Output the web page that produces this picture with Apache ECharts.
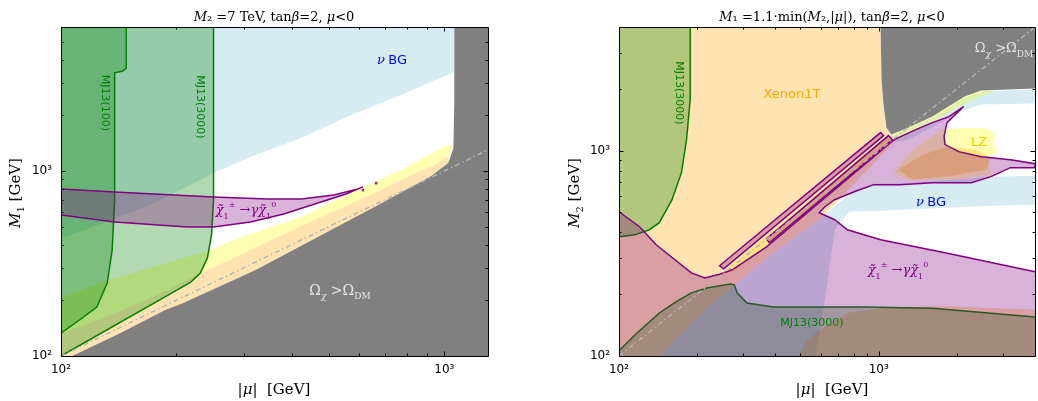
<!DOCTYPE html>
<html><head><meta charset="utf-8">
<script src="https://cdn.jsdelivr.net/npm/echarts@6/dist/echarts.min.js"></script>
<style>html,body{margin:0;padding:0;background:#fff}#c{width:1038px;height:401px}</style>
</head><body><div id="c"></div>
<script>
// ---------- axis ranges and ticks ----------
const L_X_RANGE = [100, 1300], L_Y_RANGE = [100, 6000];
const R_X_RANGE = [100, 4000], R_Y_RANGE = [100, 4000];
const L_X_MAJOR = [100, 1000], L_X_MINOR = [200, 300, 400, 500, 600, 700, 800, 900];
const L_Y_MAJOR = [100, 1000], L_Y_MINOR = [200, 300, 400, 500, 600, 700, 800, 900, 2000, 3000, 4000, 5000];
const R_X_MAJOR = [100, 1000], R_X_MINOR = [200, 300, 400, 500, 600, 700, 800, 900, 2000, 3000];
const R_Y_MAJOR = [100, 1000], R_Y_MINOR = [200, 300, 400, 500, 600, 700, 800, 900, 2000, 3000];

// ---------- left panel regions [|mu|, M1] in GeV ----------
const L_NUBG = [[100,6000],[1062,6000],[1062,3430],[771,2575],[571,2009],[423,1508],[312,1191],[250,975],[171,655],[100,430]];
const L_LZ = [[1056,1417],[941,1267],[771,1012],[606,809],[423,564],[282,424],[245,374],[133,257],[100,208],[100,133],[126,157],[171,206],[248,299],[312,374],[423,504],[632,733],[771,894],[941,1078],[1024,1205]];
const L_XENON = [[1024,1205],[941,1078],[771,894],[632,733],[423,504],[312,374],[248,299],[171,206],[126,157],[100,133],[100,100],[300,100],[1062,697]];
const L_RELIC = [[107,100],[143,133],[187,177],[207,192],[322,292],[672,655],[925,940],[1024,1105],[1056,1332],[1062,2420],[1062,6000],[1300,6000],[1300,100]];
const L_MJ3000 = [[100,6000],[250,6000],[250,697],[247,451],[241,339],[231,281],[218,251],[199,225],[100,100]];
const L_MJ100 = [[100,6000],[148,6000],[148,3600],[145,3470],[138,3390],[138,697],[136,374],[132,248],[124,184],[112,157],[100,133]];
const L_DECAY = [[100,800],[138,770],[250,723],[346,706],[423,706],[515,742],[595,800],[613,820],[554,751],[468,671],[381,586],[312,530],[250,498],[214,498],[138,530],[100,578]];
const L_DECAY_DOTS = [[613,790],[664,861]];
const L_DIAG = [[100,100],[1300,1300]];

// ---------- right panel regions [|mu|, M2] in GeV ----------
const R_NUBG1 = [[1119,1184],[1297,1280],[1610,1449],[2142,1814],[2482,1940],[4000,1984],[4000,1696],[2482,1677],[1999,1532],[1681,1339],[1297,1131],[1169,1106]];
const R_NUBG2 = [[143,100],[220,173],[393,318],[605,471],[805,645],[958,690],[1354,698],[1914,722],[2706,747],[4000,755],[4000,545],[2706,539],[1801,527],[1017,510],[771,504],[677,412],[621,188],[570,100]];
const R_LZ1 = [[1756,1266],[2276,1294],[2638,1280],[2826,1197],[2777,1070],[2876,989],[2638,925],[2706,764],[1914,722],[1297,722],[1139,790],[1354,1011]];
const R_LZ2 = [[1119,1210],[1610,1465],[2142,1834],[2482,1962],[2826,1962],[2179,1714],[1681,1416],[1189,1131]];
const R_LZ3 = [[257,260],[1072,1170],[1139,1144],[275,254]];
const R_XENON1 = [[100,4000],[1017,4000],[1026,2220],[1044,1677],[1072,1294],[1119,1210],[1169,1131],[605,471],[393,318],[220,173],[143,100],[100,100]];
const R_XENON2 = [[1189,808],[1476,956],[1833,1046],[2377,1011],[2706,925],[2592,808],[1914,755],[1354,722]];
const R_XENON3 = [[492,100],[522,116],[570,129],[660,145],[758,162],[1017,171],[1801,175],[4000,168],[4000,100]];
const R_RELIC = [[1017,4000],[1026,2220],[1044,1677],[1072,1294],[1119,1197],[1297,1294],[1610,1465],[2142,1834],[2482,1962],[4000,2006],[4000,4000]];
const R_MJ_UP = [[100,4000],[188,4000],[188,1774],[182,1131],[174,781],[160,577],[143,446],[131,412],[115,389],[100,381]];
const R_MJ_LOW = [[100,106],[117,129],[143,162],[165,183],[190,203],[220,215],[268,224],[278,222],[285,203],[311,181],[393,173],[878,173],[1610,171],[4000,155],[4000,100],[100,100]];
const R_DECAY = [[100,504],[120,426],[139,348],[190,254],[214,240],[246,251],[273,263],[370,340],[1110,1094],[1169,1144],[1390,1266],[1610,1369],[1865,1465],[2124,1639],[1833,1369],[1786,1170],[1801,1070],[2034,989],[2482,935],[3217,904],[4000,864],[4000,826],[3217,826],[2706,747],[2276,698],[1610,698],[1210,683],[958,683],[805,631],[677,577],[621,533],[590,499],[677,461],[758,412],[1017,368],[1801,318],[4000,257],[4000,100],[100,100]];
const R_STRIP_A = [[244,275],[1017,1224],[1044,1184],[253,266]];
const R_STRIP_B = [[370,372],[1091,1184],[1129,1131],[379,356]];
const R_DIAG = [[100,100],[4000,4000]];

// ---------- styles ----------
const C = {
  blue: 'rgba(173,216,230,0.5)', yellow: 'rgba(255,255,0,0.3)', orange: 'rgba(255,165,0,0.3)',
  gray: '#808080', green: 'rgba(0,128,0,0.3)', purple: 'rgba(128,0,128,0.3)',
  greenLine: '#008000', purpleLine: '#800080'
};

function region(gi, pts, fill, z, outline, stroke, closed) {
  return {
    type: 'custom', xAxisIndex: gi, yAxisIndex: gi, silent: true, animation: false, z: z,
    data: pts,
    renderItem: function (params, api) {
      if (params.dataIndex !== 0) return null;
      const children = [{ type: 'polygon', shape: { points: pts.map(p => api.coord(p)) }, style: { fill: fill } }];
      if (outline) {
        children.push({ type: closed ? 'polygon' : 'polyline', shape: { points: outline.map(p => api.coord(p)) },
          style: { fill: 'none', stroke: stroke, lineWidth: 1.5 } });
      }
      return { type: 'group', children: children };
    }
  };
}

function ticks(gi, xr, yr, xMaj, xMin, yMaj, yMin) {
  const items = [];
  xMaj.forEach(v => items.push([v, yr[0], 0]));
  xMin.forEach(v => items.push([v, yr[0], 1]));
  yMaj.forEach(v => items.push([xr[0], v, 2]));
  yMin.forEach(v => items.push([xr[0], v, 3]));
  return {
    type: 'custom', xAxisIndex: gi, yAxisIndex: gi, silent: true, animation: false, z: 30,
    data: items,
    renderItem: function (params, api) {
      const cs = params.coordSys;
      const kind = api.value(2);
      const p = api.coord([api.value(0), api.value(1)]);
      const st = { stroke: '#000', lineWidth: 1 };
      const ch = [];
      if (kind <= 1) {
        const len = kind === 0 ? 4.5 : 2.5, x = Math.round(p[0]) + 0.5;
        ch.push({ type: 'line', shape: { x1: x, y1: cs.y + cs.height, x2: x, y2: cs.y + cs.height - len }, style: st });
        ch.push({ type: 'line', shape: { x1: x, y1: cs.y, x2: x, y2: cs.y + len }, style: st });
      } else {
        const len = kind === 2 ? 4.5 : 2.5, y = Math.round(p[1]) + 0.5;
        ch.push({ type: 'line', shape: { x1: cs.x, y1: y, x2: cs.x + len, y2: y }, style: st });
        ch.push({ type: 'line', shape: { x1: cs.x + cs.width, y1: y, x2: cs.x + cs.width - len, y2: y }, style: st });
      }
      if (params.dataIndex === 0) {
        ch.push({ type: 'rect', shape: { x: cs.x + 0.5, y: cs.y + 0.5, width: cs.width, height: cs.height },
          style: { fill: 'none', stroke: '#000', lineWidth: 1 } });
      }
      return { type: 'group', children: ch };
    }
  };
}

function diag(gi, pts) {
  return { type: 'line', xAxisIndex: gi, yAxisIndex: gi, data: pts, symbol: 'none', silent: true, animation: false, z: 12,
    lineStyle: { color: '#b4b4b4', width: 1.5, type: [5, 3, 1.5, 3] } };
}

const SUP = { 2: '\u00b2', 3: '\u00b3' };
function logLabel(v) {
  const l = Math.log10(v), r = Math.round(l);
  return Math.abs(l - r) < 1e-6 && SUP[r] ? '10' + SUP[r] : '';
}
function xAx(gi, r) {
  return { type: 'log', logBase: 10, gridIndex: gi, min: r[0], max: r[1],
    axisLine: { show: false }, axisTick: { show: false }, splitLine: { show: false }, minorTick: { show: false },
    axisLabel: { formatter: logLabel, margin: 8, color: '#000', fontFamily: 'DejaVu Sans', fontSize: 12, showMinLabel: true, showMaxLabel: true } };
}
function yAx(gi, r) {
  return { type: 'log', logBase: 10, gridIndex: gi, min: r[0], max: r[1],
    axisLine: { show: false }, axisTick: { show: false }, splitLine: { show: false }, minorTick: { show: false },
    axisLabel: { formatter: logLabel, margin: 9, color: '#000', fontFamily: 'DejaVu Sans', fontSize: 12, showMinLabel: true, showMaxLabel: true } };
}

// ---------- text ----------
const SERIF = 'DejaVu Serif', SANS = 'DejaVu Sans';
const RICH = {
  n: { fontFamily: SERIF, fontSize: 13, lineHeight: 18, fill: '#000' },
  i: { fontFamily: SERIF, fontSize: 13, fontStyle: 'italic', lineHeight: 18, fill: '#000' },
  ax: { fontFamily: SERIF, fontSize: 15, lineHeight: 20, fill: '#000' },
  axi: { fontFamily: SERIF, fontSize: 15, fontStyle: 'italic', lineHeight: 20, fill: '#000' },
  axs: { fontFamily: SERIF, fontSize: 10, lineHeight: 12, verticalAlign: 'bottom', fill: '#000' }
};
function txt(x, y, text, style, rot) {
  return { type: 'text', x: x, y: y, rotation: rot || 0, z: 50, silent: true,
    style: Object.assign({ text: text, align: 'center', verticalAlign: 'middle', textAlign: 'center', textVerticalAlign: 'middle' }, style) };
}
function omega(x, y, color, size) {
  const t = { fontFamily: SERIF, fontSize: size, lineHeight: 20, fill: color };
  const s = { fontFamily: SERIF, fontSize: 9, lineHeight: 11, verticalAlign: 'bottom', fill: color };
  return txt(x, y, '{a|\u03a9}{si|\u03c7}{a| >\u03a9}{s|DM}', { rich: { a: t, s: s, si: Object.assign({}, s, { fontStyle: 'italic' }) } });
}
function chi(x, y) {
  const col = '#800080';
  const a = { fontFamily: SERIF, fontSize: 13, fontStyle: 'italic', lineHeight: 20, fill: col };
  const n = { fontFamily: SERIF, fontSize: 13, lineHeight: 20, fill: col };
  const sb = { fontFamily: SERIF, fontSize: 8, lineHeight: 10, verticalAlign: 'bottom', fill: col };
  const sp = { fontFamily: SERIF, fontSize: 8, lineHeight: 10, verticalAlign: 'top', fill: col };
  return txt(x, y, '{a|\u03c7\u0303}{sb|1}{sp|\u00b1}{n| \u2192}{a|\u03b3\u03c7\u0303}{sb|1}{sp|0}', { rich: { a: a, n: n, sb: sb, sp: sp } });
}
function nubg(x, y) {
  return txt(x, y, '{g|\u03bd} {b|BG}', { rich: {
    g: { fontFamily: SERIF, fontStyle: 'italic', fontSize: 13, fill: '#0000ff' },
    b: { fontFamily: SANS, fontSize: 13, fill: '#0000ff' } } });
}
const mj = (x, y, s, rot) => txt(x, y, s, { fontFamily: SANS, fontSize: 11, fill: '#008000' }, rot);

const graphics = [
  txt(274, 18, '{i|M}{n|\u2082 =7 TeV, tan}{i|\u03b2}{n|=2, }{i|\u03bc}{n|<0}', { rich: RICH }),
  txt(832, 18, '{i|M}{n|\u2081 =1.1\u00b7min(}{i|M}{n|\u2082,|}{i|\u03bc}{n||), tan}{i|\u03b2}{n|=2, }{i|\u03bc}{n|<0}', { rich: RICH }),
  txt(274, 390, '{ax||}{axi|\u03bc}{ax||  [GeV]}', { rich: RICH }),
  txt(832, 390, '{ax||}{axi|\u03bc}{ax||  [GeV]}', { rich: RICH }),
  txt(16, 193, '{axi|M}{axs|1}{ax| [GeV]}', { rich: RICH }, Math.PI / 2),
  txt(575, 193, '{axi|M}{axs|2}{ax| [GeV]}', { rich: RICH }, Math.PI / 2),
  nubg(392, 61),
  mj(105, 103, 'MJ13(100)', -Math.PI / 2),
  mj(200, 107, 'MJ13(3000)', -Math.PI / 2),
  chi(246, 211),
  omega(340, 291, '#e6e6e6', 14),
  txt(792, 95, 'Xenon1T', { fontFamily: SANS, fontSize: 13, fill: '#ffa500' }),
  txt(979, 143, 'LZ', { fontFamily: SANS, fontSize: 13, fill: '#ffcc00' }),
  nubg(931, 203),
  mj(679, 93, 'MJ13(3000)', -Math.PI / 2),
  mj(812, 323, 'MJ13(3000)', 0),
  chi(898, 271),
  omega(1004, 49, '#e6e6e6', 13)
];

const series = [
  // left panel
  region(0, L_NUBG, C.blue, 2),
  region(0, L_LZ, C.yellow, 3),
  region(0, L_XENON, C.orange, 4),
  region(0, L_RELIC, C.gray, 5),
  region(0, L_MJ3000, C.green, 6, L_MJ3000.slice(1), C.greenLine),
  region(0, L_MJ100, C.green, 7, L_MJ100.slice(1), C.greenLine),
  region(0, L_DECAY, C.purple, 8, L_DECAY, C.purpleLine),
  diag(0, L_DIAG),
  { type: 'scatter', xAxisIndex: 0, yAxisIndex: 0, data: L_DECAY_DOTS, symbolSize: 3, silent: true, animation: false, z: 13,
    itemStyle: { color: '#800080' } },
  ticks(0, L_X_RANGE, L_Y_RANGE, L_X_MAJOR, L_X_MINOR, L_Y_MAJOR, L_Y_MINOR),
  // right panel
  region(1, R_NUBG1, C.blue, 2),
  region(1, R_NUBG2, C.blue, 2),
  region(1, R_LZ1, C.yellow, 3),
  region(1, R_LZ2, C.yellow, 3),
  region(1, R_LZ3, C.yellow, 3),
  region(1, R_XENON1, C.orange, 4),
  region(1, R_XENON2, C.orange, 4),
  region(1, R_XENON3, C.orange, 4),
  region(1, R_RELIC, C.gray, 5),
  region(1, R_MJ_UP, C.green, 6, R_MJ_UP.slice(1), C.greenLine),
  region(1, R_MJ_LOW, C.green, 6, R_MJ_LOW.slice(0, 14), C.greenLine),
  region(1, R_DECAY, C.purple, 8, R_DECAY.slice(0, 37), C.purpleLine),
  region(1, R_STRIP_A, C.purple, 9, R_STRIP_A, C.purpleLine, true),
  region(1, R_STRIP_B, C.purple, 9, R_STRIP_B, C.purpleLine, true),
  diag(1, R_DIAG),
  ticks(1, R_X_RANGE, R_Y_RANGE, R_X_MAJOR, R_X_MINOR, R_Y_MAJOR, R_Y_MINOR)
];

const chart = echarts.init(document.getElementById('c'), null, { renderer: 'canvas', width: 1038, height: 401 });
chart.setOption({
  animation: false,
  backgroundColor: '#ffffff',
  grid: [
    { left: 61, top: 27, width: 427, height: 329, containLabel: false },
    { left: 619, top: 27, width: 426, height: 329, containLabel: false }
  ],
  xAxis: [xAx(0, L_X_RANGE), xAx(1, R_X_RANGE)],
  yAxis: [yAx(0, L_Y_RANGE), yAx(1, R_Y_RANGE)],
  series: series,
  graphic: graphics
});
</script></body></html>
